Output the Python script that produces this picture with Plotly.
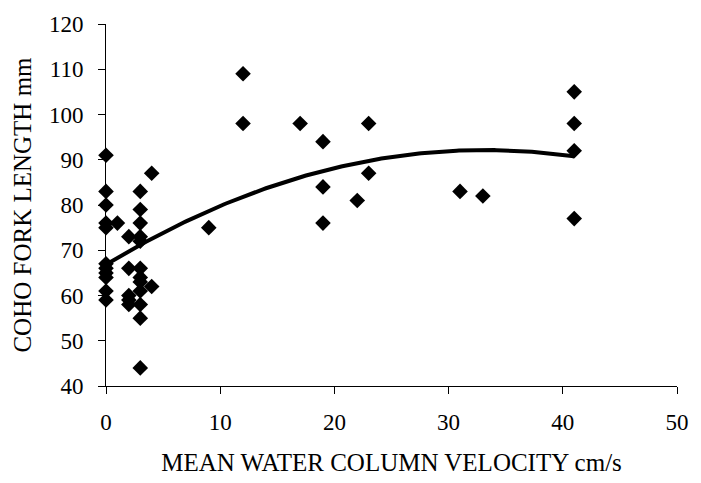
import numpy as np
import plotly.graph_objects as go

velocity = [0]*11 + [1] + [2]*5 + [3]*12 + [4]*2 + [9, 12, 12, 17, 19, 19, 19, 22, 23, 23, 31, 33, 41, 41, 41, 41]
length = [91, 83, 80, 76, 75, 67, 66, 65, 64, 61, 59,
          76,
          73, 66, 60, 59, 58,
          83, 79, 76, 73, 72, 66, 64, 63, 61, 58, 55, 44,
          87, 62,
          75, 109, 98, 98, 94, 84, 76, 81, 98, 87, 83, 82, 105, 98, 92, 77]

x_ticks = [0, 10, 20, 30, 40, 50]
y_ticks = [40, 50, 60, 70, 80, 90, 100, 110, 120]

coef = np.polyfit(velocity, length, 2)
xs = np.linspace(0, max(velocity), 200)
ys = np.polyval(coef, xs)

fig = go.Figure()
fig.add_trace(go.Scatter(x=xs, y=ys, mode="lines", line=dict(color="black", width=4),
                         hoverinfo="skip", cliponaxis=False))
fig.add_trace(go.Scatter(x=velocity, y=length, mode="markers",
                         marker=dict(symbol="diamond", size=12, color="black"),
                         cliponaxis=False))

fam = "Liberation Serif, Times New Roman, serif"
tick_font = dict(family=fam, size=23, color="black")
title_font = dict(family=fam, size=25, color="black")
fig.update_layout(
    width=701, height=483,
    margin=dict(l=106, r=14, t=18, b=96),
    paper_bgcolor="white", plot_bgcolor="white",
    showlegend=False,
    font=tick_font,
    xaxis=dict(range=[0, 50], tickvals=x_ticks, showgrid=False, zeroline=False,
               showline=True, linecolor="black", linewidth=1,
               ticks="outside", ticklen=7, tickcolor="black",
               tickfont=tick_font, ticklabelstandoff=8,
               title=dict(text="MEAN WATER COLUMN VELOCITY cm/s", font=title_font, standoff=19)),
    yaxis=dict(range=[40, 120], tickvals=y_ticks, showgrid=False, zeroline=False,
               showline=True, linecolor="black", linewidth=1,
               ticks="outside", ticklen=7, tickcolor="black",
               tickfont=tick_font, ticklabelstandoff=10,
               title=dict(text="COHO FORK LENGTH mm", font=title_font, standoff=10)),
)
fig.write_html("out.html")
